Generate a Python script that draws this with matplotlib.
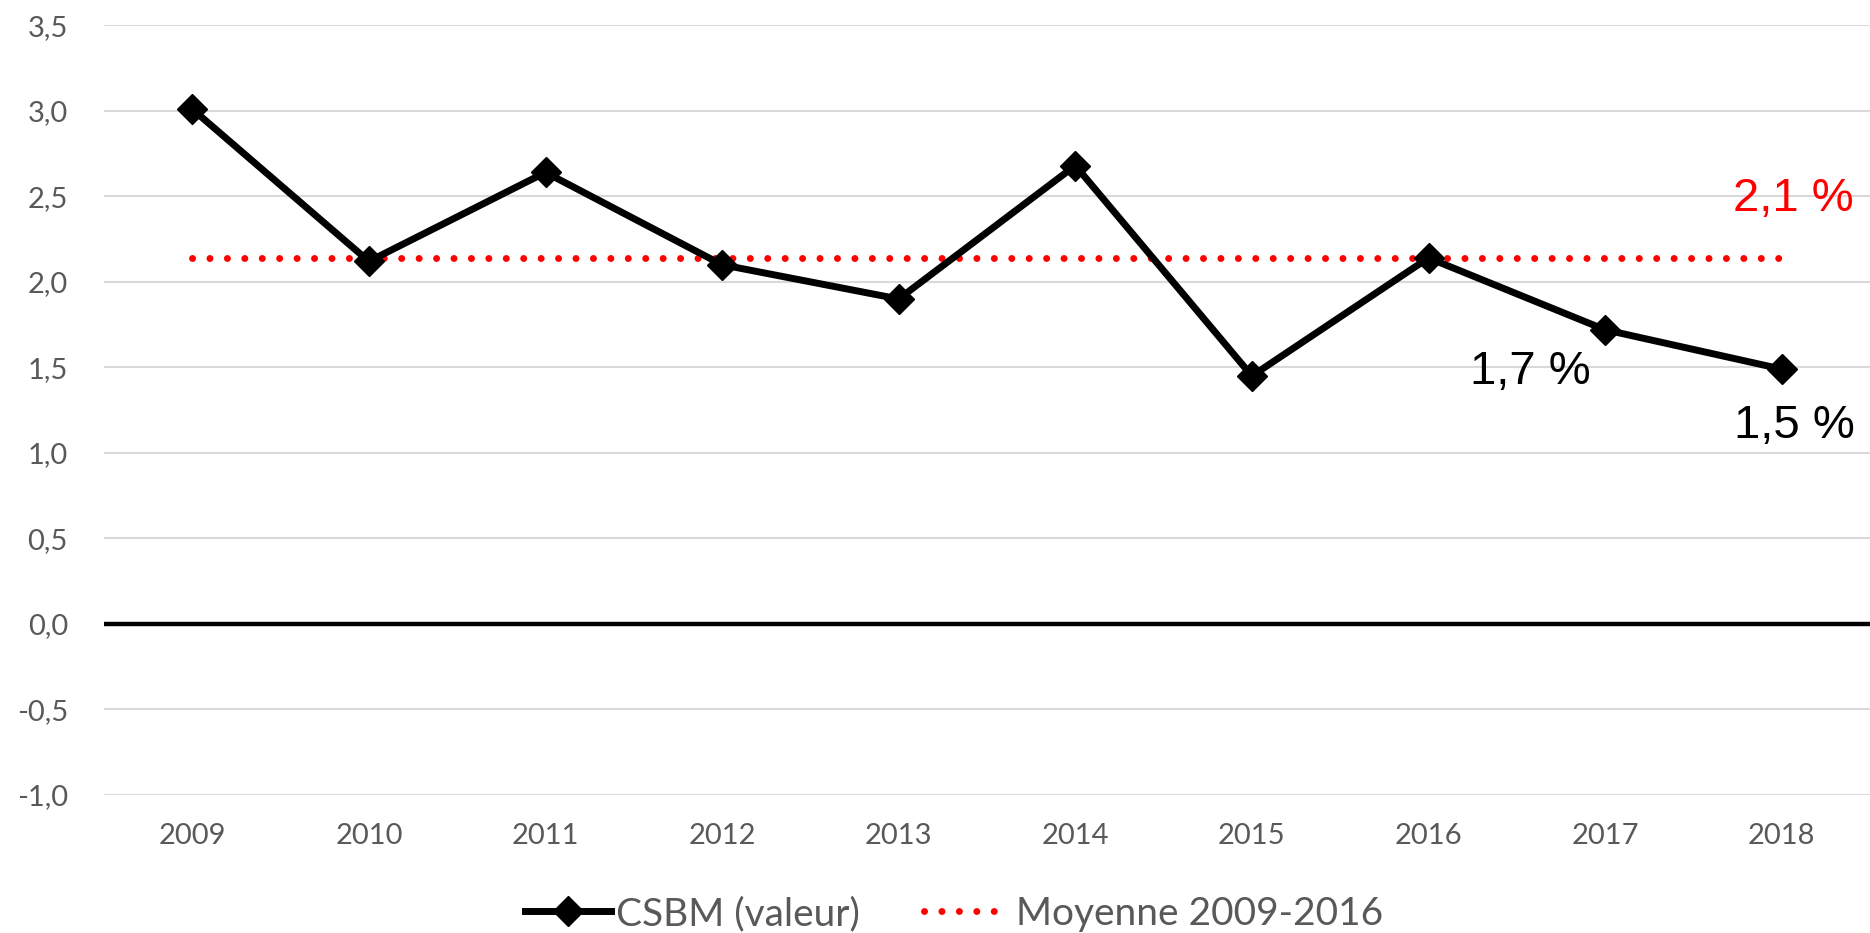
import matplotlib
matplotlib.use("Agg")
import matplotlib.pyplot as plt
from matplotlib.ticker import FuncFormatter, MultipleLocator
from matplotlib.lines import Line2D

years = ["2009", "2010", "2011", "2012", "2013", "2014", "2015", "2016", "2017", "2018"]
csbm = [3.01, 2.12, 2.64, 2.10, 1.90, 2.68, 1.45, 2.14, 1.72, 1.49]
moyenne = 2.14
labels = {"mean": "2,1 %", "2017": "1,7 %", "2018": "1,5 %"}

fig = plt.figure(figsize=(18.70, 9.33), dpi=100)
ax = fig.add_axes([104 / 1870, 1 - 795 / 933, 1 - 104 / 1870, (795 - 25.3) / 933])
ax.set_axisbelow(True)

x = list(range(len(years)))
ax.set_xlim(-0.5, len(years) - 0.5)
ax.set_ylim(-1.0, 3.5)
ax.yaxis.set_major_locator(MultipleLocator(0.5))
ax.yaxis.set_major_formatter(FuncFormatter(lambda v, p: f"{v:.1f}".replace(".", ",")))
ax.set_xticks(x)
ax.set_xticklabels(years)

ax.grid(axis="y", color="#d9d9d9", linewidth=1.5)
ax.axhline(0, color="black", linewidth=3.2, zorder=1.8)
for s in ax.spines.values():
    s.set_visible(False)

ax.tick_params(axis="both", length=0)
ax.tick_params(axis="y", pad=26, labelsize=21, labelcolor="#595959")
ax.tick_params(axis="x", pad=20, labelsize=21, labelcolor="#595959")
for lab in ax.get_xticklabels() + ax.get_yticklabels():
    lab.set_family(["Lato", "DejaVu Sans"])

ax.plot(x, [moyenne] * len(x), color="#ff0000", linewidth=5,
        linestyle=(0, (0.01, 2.5)), dash_capstyle="round", zorder=2,
        label="Moyenne 2009-2016")
ax.plot(x, csbm, color="black", linewidth=5, marker="D", markersize=15,
        zorder=3, label="CSBM (valeur)")

ann_font = dict(family=["Liberation Sans", "DejaVu Sans"], size=34)
ax.annotate(labels["mean"], xy=(9, moyenne), xytext=(12, 59), textcoords="offset pixels",
            ha="center", va="center", color="#ff0000", **ann_font)
ax.annotate(labels["2017"], xy=(8, csbm[8]), xytext=(-75, -42), textcoords="offset pixels",
            ha="center", va="center", color="black", **ann_font)
ax.annotate(labels["2018"], xy=(9, csbm[9]), xytext=(13, -57), textcoords="offset pixels",
            ha="center", va="center", color="black", **ann_font)

h1 = Line2D([], [], color="black", linewidth=5, marker="D", markersize=15)
h2 = Line2D([], [], color="#ff0000", linewidth=5, linestyle=(0, (0.01, 2.5)),
            dash_capstyle="round")
leg = fig.legend([h1, h2], ["CSBM (valeur)", "Moyenne 2009-2016"], loc="center",
                 bbox_to_anchor=(954 / 1870, 1 - 914 / 933), ncol=2, frameon=False,
                 handlelength=2.2, handletextpad=0.15, columnspacing=1.65,
                 prop=dict(family=["Lato", "DejaVu Sans"], size=28))
for t in leg.get_texts():
    t.set_color("#595959")

fig.savefig("out.png", dpi=100)
